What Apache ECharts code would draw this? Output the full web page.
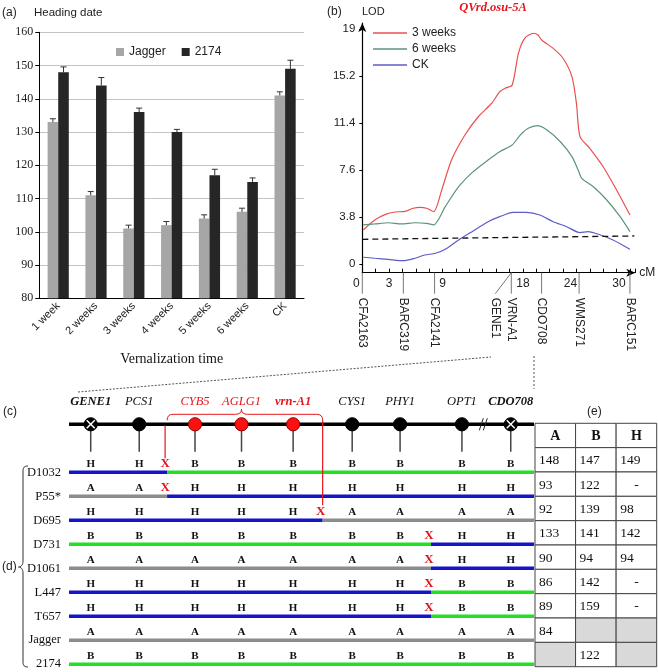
<!DOCTYPE html>
<html><head><meta charset="utf-8">
<script src="https://cdn.jsdelivr.net/npm/echarts@6/dist/echarts.min.js"></script>
<style>html,body{margin:0;padding:0;background:#fff}#c{width:658px;height:672px}</style>
</head><body><div id="c"></div>
<script>
// ---------- Panel (a): heading date ----------
const weeks = ['1 week','2 weeks','3 weeks','4 weeks','5 weeks','6 weeks','CK'];
const jagger = [133,111,101,102,104,106,141];
const jaggerErr = [1.0,1.1,1.0,1.1,1.1,1.1,1.1];
const line2174 = [148,144,136,130,117,115,149];
const line2174Err = [1.6,2.4,1.2,0.8,1.8,1.2,2.6];

// ---------- Panel (b): LOD curves ----------
const lod3w = [[0.1,2.77],[1.4,3.58],[2.6,4.04],[3.7,4.23],[4.8,4.28],[5.7,4.53],[6.5,4.61],[7.2,4.53],[8.0,4.25],[8.9,6.0],[10.0,8.43],[11.5,10.45],[13.0,11.93],[14.5,13.02],[15.4,13.95],[16.0,14.23],[16.8,14.5],[17.5,17.06],[18.2,18.27],[19.2,18.68],[19.7,18.54],[20.1,18.13],[21.4,17.46],[22.5,16.66],[23.5,15.17],[24.0,13.02],[24.4,10.32],[25.5,9.38],[27.0,7.89],[28.5,6.01],[30.0,3.99]];
const lod6w = [[0.1,3.18],[1.4,3.26],[2.9,3.36],[4.4,3.26],[5.9,3.36],[7.2,3.31],[8.0,3.18],[9.3,4.66],[10.8,6.27],[12.3,7.41],[14.1,8.43],[15.4,9.1],[16.8,9.64],[17.7,10.45],[18.6,11.0],[19.6,11.21],[20.7,10.86],[22.2,9.91],[23.5,8.7],[24.2,7.62],[24.6,6.95],[25.9,6.27],[27.4,5.2],[28.9,3.85],[30.0,2.64]];
const lodCK = [[0.1,0.57],[1.4,0.49],[2.9,0.40],[4.6,0.29],[5.9,0.49],[7.0,0.75],[8.2,0.89],[9.3,1.21],[10.8,1.96],[12.3,2.64],[14.1,3.44],[15.4,3.85],[16.9,4.2],[18.4,4.2],[19.9,3.99],[21.4,3.44],[22.9,3.04],[24.4,2.56],[25.3,2.64],[26.7,2.37],[28.1,1.96],[30.0,1.21]];
const lodThreshold = [[0,2.02],[30.5,2.29]];
const lodTicks = [0,3.8,7.6,11.4,15.2,19];
const cmLabels = [0,3,9,18,24,30];
const mapMarkers = ['CFA2163','BARC319','CFA2141','GENE1','VRN-A1','CDO708','WMS271','BARC151'];
const mapMarkerCM = [0,4.6,8.1,16.7,16.7,20.1,24.3,30];

// ---------- Panels (c)/(d): fine map and recombinants ----------
const markerNames = ['GENE1','PCS1','CYB5','AGLG1','vrn-A1','CYS1','PHY1','OPT1','CDO708'];
const markerMapPos = [4.67,15.1,27.1,37.1,48.2,60.9,71.2,84.5,95.0];
const markerRole = ['flank','marker','region','region','candidate','marker','marker','marker','flank'];
const mapBreakPos = 89.1;
const genoRows = ['D1032','P55*','D695','D731','D1061','L447','T657','Jagger','2174'];
const genotypes = [
  ['H','H','B','B','B','B','B','B','B'],
  ['A','A','H','H','H','H','H','H','H'],
  ['H','H','H','H','H','A','A','A','A'],
  ['B','B','B','B','B','B','B','H','H'],
  ['A','A','A','A','A','A','A','H','H'],
  ['H','H','H','H','H','H','H','B','B'],
  ['H','H','H','H','H','H','H','B','B'],
  ['A','A','A','A','A','A','A','A','A'],
  ['B','B','B','B','B','B','B','B','B']
];

// ---------- Panel (e): heading date by genotype class ----------
const tableCols = ['A','B','H'];
const hdA = [148,93,92,133,90,86,89,84,null];
const hdB = [147,122,139,141,94,142,159,null,122];
const hdH = [149,'-',98,142,94,'-','-',null,null];

// ======================================================
const SERIF = '"Liberation Serif","Times New Roman",serif';
const SANS = '"Liberation Sans",Arial,Helvetica,sans-serif';
const genoColor = {H:'#1414c8', B:'#22e022', A:'#8c8c8c'};
const RED = '#e5161c';
const yMinB = -0.68, yMaxB = 19.51;
const ROW0 = 2; // first recombinant row index on diagram axis

// derived segments / breakpoints
const segData = [], letterData = [], xData = [];
genotypes.forEach((g, r) => {
  let start = 0;
  for (let i = 0; i < g.length; i++) {
    letterData.push([markerMapPos[i], r + ROW0, i]);
    if (i < g.length - 1 && g[i] !== g[i+1]) {
      const bp = (markerMapPos[i] + markerMapPos[i+1]) / 2;
      segData.push([start, bp, r + ROW0, r, i]);
      xData.push([bp, r + ROW0, r]);
      start = bp;
    }
  }
  segData.push([start, 100, r + ROW0, r, g.length - 1]);
});
const regionIdx = markerRole.map((v,i)=>(v==='region'||v==='candidate')?i:-1).filter(i=>i>=0);
const regLeft = (markerMapPos[regionIdx[0]-1] + markerMapPos[regionIdx[0]]) / 2;
const regRight = (markerMapPos[regionIdx[regionIdx.length-1]] + markerMapPos[regionIdx[regionIdx.length-1]+1]) / 2;
function rowWithBreak(pos){ const f = xData.find(d => Math.abs(d[0]-pos) < 1e-6); return f ? f[1] : ROW0; }

function errRender(sign){
  return function(params, api){
    const i = api.value(0), v = api.value(1), e = api.value(2);
    const band = api.size([1,0])[0];
    const base = api.coord([i, v]);
    const top = api.coord([i, v + e]);
    const x = base[0] + sign * band * 0.14;
    return {type:'group', children:[
      {type:'line', shape:{x1:x,y1:base[1],x2:x,y2:top[1]}, style:{stroke:'#333',lineWidth:1}},
      {type:'line', shape:{x1:x-3,y1:top[1],x2:x+3,y2:top[1]}, style:{stroke:'#333',lineWidth:1}}
    ]};
  };
}
function txt(x, y, text, size, family, extra){
  return {type:'text', x:x, y:y, style:Object.assign({text:text, fontFamily:family, fontSize:size,
    fill:'#222', align:'left', verticalAlign:'middle'}, extra||{})};
}
function qc(x1,y1,cx,cy,x2,y2,st){ return {type:'bezierCurve', shape:{x1:x1,y1:y1,cpx1:cx,cpy1:cy,x2:x2,y2:y2}, style:st}; }

const chart = echarts.init(document.getElementById('c'));
chart.setOption({
  animation:false,
  backgroundColor:'#fff',
  grid:[
    {left:39.3, top:32.3, width:264.7, height:266},
    {left:362.3, top:23, width:273, height:249.7},
    {left:69, top:424.3, width:465, height:239.9},
    {left:535, top:423.3, width:121.7, height:243.4}
  ],
  legend:[
    {data:['Jagger','2174'], left:111, top:41, itemWidth:8, itemHeight:8, itemGap:16, icon:'rect',
     textStyle:{fontFamily:SANS, fontSize:12, color:'#222'}},
    {data:['3 weeks','6 weeks','CK'], orient:'vertical', left:368, top:22, itemWidth:34, itemHeight:11, itemGap:4,
     icon:'path://M0,0H34V1.3H0Z', symbolKeepAspect:true,
     textStyle:{fontFamily:SANS, fontSize:12, color:'#222'}}
  ],
  xAxis:[
    {type:'category', gridIndex:0, data:weeks,
     axisLine:{lineStyle:{color:'#000',width:1}}, axisTick:{length:5,lineStyle:{color:'#000'}},
     axisLabel:{rotate:45, fontFamily:SANS, fontSize:11, color:'#222', margin:6},
     name:'Vernalization time', nameLocation:'middle', nameGap:54,
     nameTextStyle:{fontFamily:SERIF, fontSize:14, color:'#111'}},
    {type:'value', gridIndex:1, min:0, max:30.6, interval:1.5,
     axisLine:{onZero:false, symbol:['none','arrow'], symbolSize:[6,9], lineStyle:{color:'#000',width:1.2}},
     axisTick:{inside:true, length:4, lineStyle:{color:'#000'}},
     axisLabel:{customValues:cmLabels, fontFamily:SANS, fontSize:12, color:'#222', margin:5,
       formatter:function(v){ return v===30 ? '{t|'+v+'}' : (v===0||v===24) ? '{s|'+v+'}' : String(v); },
       rich:{s:{padding:[0,12,0,0], fontFamily:SANS, fontSize:12, color:'#222'},
             t:{padding:[0,22,0,0], fontFamily:SANS, fontSize:12, color:'#222'}}},
     splitLine:{show:false},
     name:'cM', nameLocation:'end', nameGap:4, nameTextStyle:{fontFamily:SANS, fontSize:12, color:'#222'}},
    {type:'value', gridIndex:2, min:0, max:100, show:false},
    {type:'category', gridIndex:3, data:tableCols, show:false}
  ],
  yAxis:[
    {type:'value', gridIndex:0, min:80, max:160, interval:10,
     axisLine:{show:true, lineStyle:{color:'#000',width:1}}, axisTick:{show:true,length:4,lineStyle:{color:'#000'}},
     axisLabel:{fontFamily:SERIF, fontSize:12, color:'#222', margin:6},
     splitLine:{lineStyle:{color:'#c4c4c4',width:1}}},
    {type:'value', gridIndex:1, min:yMinB, max:yMaxB,
     axisLine:{show:true, onZero:false, symbol:['none','arrow'], symbolSize:[6,9], lineStyle:{color:'#000',width:1.2}},
     axisTick:{show:true, customValues:lodTicks, length:3, lineStyle:{color:'#000'}},
     axisLabel:{customValues:lodTicks, fontFamily:SANS, fontSize:11.5, color:'#222', margin:7},
     splitLine:{show:false}},
    {type:'category', gridIndex:2, data:['',''].concat(genoRows), boundaryGap:false, inverse:true,
     axisLine:{show:false}, axisTick:{show:false},
     axisLabel:{fontFamily:SERIF, fontSize:12.5, color:'#111', margin:8, padding:[0,0,6,0]}},
    {type:'category', gridIndex:3, data:['hdr'].concat(genoRows), inverse:true, show:false}
  ],
  series:[
    {name:'Jagger', type:'bar', xAxisIndex:0, yAxisIndex:0, data:jagger, barWidth:'28%', barGap:'0%',
     itemStyle:{color:'#a6a6a6'}},
    {name:'2174', type:'bar', xAxisIndex:0, yAxisIndex:0, data:line2174, barWidth:'28%', barGap:'0%',
     itemStyle:{color:'#262626'}},
    {type:'custom', xAxisIndex:0, yAxisIndex:0, data:jagger.map((v,i)=>[i,v,jaggerErr[i]]), renderItem:errRender(-1), z:5},
    {type:'custom', xAxisIndex:0, yAxisIndex:0, data:line2174.map((v,i)=>[i,v,line2174Err[i]]), renderItem:errRender(1), z:5},

    {name:'3 weeks', type:'line', xAxisIndex:1, yAxisIndex:1, data:lod3w, symbol:'none', smooth:0.25,
     lineStyle:{color:'#e8504f', width:1.2}, itemStyle:{color:'#e8504f'}},
    {name:'6 weeks', type:'line', xAxisIndex:1, yAxisIndex:1, data:lod6w, symbol:'none', smooth:0.25,
     lineStyle:{color:'#5b9479', width:1.2}, itemStyle:{color:'#5b9479'}},
    {name:'CK', type:'line', xAxisIndex:1, yAxisIndex:1, data:lodCK, symbol:'none', smooth:0.25,
     lineStyle:{color:'#5c5cc4', width:1.2}, itemStyle:{color:'#5c5cc4'}},
    {type:'line', xAxisIndex:1, yAxisIndex:1, data:lodThreshold, symbol:'none',
     lineStyle:{color:'#111', width:1.3, type:[6,4]}},
    {type:'custom', xAxisIndex:1, yAxisIndex:1, data:mapMarkerCM.map((c,i)=>[c,yMinB,i]), clip:false,
     renderItem:function(params, api){
       const i = params.dataIndex;
       const p = api.coord([api.value(0), yMinB]);
       const shift = mapMarkers[i]==='GENE1' ? -16 : 0;
       return {type:'group', children:[
         {type:'line', shape:{x1:p[0],y1:p[1],x2:p[0]+shift,y2:p[1]+21}, style:{stroke:'#777',lineWidth:1}},
         {type:'text', x:p[0]+shift, y:p[1]+25, rotation:-Math.PI/2,
          style:{text:mapMarkers[i], x:0, y:0, align:'left', verticalAlign:'middle',
                 fontFamily:SANS, fontSize:12, fill:'#222'}}
       ]};
     }},

    // chromosome backbone
    {type:'custom', xAxisIndex:2, yAxisIndex:2, data:[[0,0]], clip:false, z:1,
     renderItem:function(params, api){
       const a = api.coord([0,0]), b = api.coord([100,0]), k = api.coord([mapBreakPos,0]);
       return {type:'group', children:[
         {type:'line', shape:{x1:a[0],y1:a[1],x2:b[0],y2:b[1]}, style:{stroke:'#000',lineWidth:3.5}},
         {type:'line', shape:{x1:k[0]-4,y1:k[1]+6,x2:k[0],y2:k[1]-6}, style:{stroke:'#222',lineWidth:1}},
         {type:'line', shape:{x1:k[0]+0,y1:k[1]+6,x2:k[0]+4,y2:k[1]-6}, style:{stroke:'#222',lineWidth:1}}
       ]};
     }},
    // markers
    {type:'custom', xAxisIndex:2, yAxisIndex:2, data:markerMapPos.map((x,i)=>[x,0,i]), clip:false, z:3,
     renderItem:function(params, api){
       const i = params.dataIndex, role = markerRole[i];
       const p = api.coord([api.value(0), 0]);
       const red = role==='region' || role==='candidate';
       const bold = role==='flank' || role==='candidate';
       const ch = [
         {type:'line', shape:{x1:p[0],y1:p[1],x2:p[0],y2:p[1]+27.4}, style:{stroke:'#444',lineWidth:1.5}},
         {type:'circle', shape:{cx:p[0],cy:p[1],r:6.6}, style:{fill:red?'#ff1010':'#000', stroke:red?'#8a0000':'#000', lineWidth:1}},
         {type:'text', style:{text:markerNames[i], x:p[0], y:p[1]-22.6, align:'center', verticalAlign:'middle',
            fontFamily:SERIF, fontSize:12.5, fontStyle:'italic', fontWeight:bold?'bold':'normal',
            fill:red?RED:'#111'}}
       ];
       if (role==='flank') {
         ch.push({type:'line', shape:{x1:p[0]-4,y1:p[1]-4,x2:p[0]+4,y2:p[1]+4}, style:{stroke:'#fff',lineWidth:1.5}});
         ch.push({type:'line', shape:{x1:p[0]-4,y1:p[1]+4,x2:p[0]+4,y2:p[1]-4}, style:{stroke:'#fff',lineWidth:1.5}});
       }
       return {type:'group', children:ch};
     }},
    // candidate region bracket and boundary lines
    {type:'custom', xAxisIndex:2, yAxisIndex:2, data:[[regLeft,0]], clip:false, z:4,
     renderItem:function(params, api){
       const l = api.coord([regLeft,0]), r = api.coord([regRight,0]);
       const m = api.coord([markerMapPos[regionIdx[1]],0]);
       const y0 = l[1]-4, yh = l[1]-10, yc = l[1]-15;
       const lRow = api.coord([regLeft, rowWithBreak(regLeft)]);
       const rRow = api.coord([regRight, rowWithBreak(regRight)]);
       const st = {stroke:RED, fill:null, lineWidth:1};
       return {type:'group', children:[
         qc(l[0],y0,l[0],yh,l[0]+6,yh,st),
         {type:'line', shape:{x1:l[0]+6,y1:yh,x2:m[0]-6,y2:yh}, style:st},
         qc(m[0]-6,yh,m[0],yh,m[0],yc,st),
         qc(m[0],yc,m[0],yh,m[0]+6,yh,st),
         {type:'line', shape:{x1:m[0]+6,y1:yh,x2:r[0]-6,y2:yh}, style:st},
         qc(r[0]-6,yh,r[0],yh,r[0],y0,st),
         {type:'line', shape:{x1:l[0]-2,y1:l[1]+1,x2:l[0]-2,y2:lRow[1]-14}, style:{stroke:RED,lineWidth:1.2}},
         {type:'line', shape:{x1:r[0],y1:y0,x2:r[0],y2:rRow[1]-15}, style:{stroke:RED,lineWidth:1.2}}
       ]};
     }},
    // recombinant haplotype segments
    {type:'custom', xAxisIndex:2, yAxisIndex:2, data:segData, clip:false, z:2,
     renderItem:function(params, api){
       const d = segData[params.dataIndex];
       const a = api.coord([d[0], d[2]]), b = api.coord([d[1], d[2]]);
       return {type:'line', shape:{x1:a[0],y1:a[1],x2:b[0],y2:b[1]},
               style:{stroke:genoColor[genotypes[d[3]][d[4]]], lineWidth:3.5}};
     }},
    // genotype letters
    {type:'custom', xAxisIndex:2, yAxisIndex:2, data:letterData, clip:false, z:3,
     renderItem:function(params, api){
       const d = letterData[params.dataIndex];
       const p = api.coord([d[0], d[1]]);
       const g = genotypes[d[1]-ROW0][d[2]];
       return {type:'text', style:{text:g, x:p[0], y:p[1]-8, align:'center', verticalAlign:'middle',
               fontFamily:SERIF, fontSize:11, fontWeight:'bold', fill:'#111'}};
     }},
    // crossover X marks
    {type:'custom', xAxisIndex:2, yAxisIndex:2, data:xData, clip:false, z:4,
     renderItem:function(params, api){
       const d = xData[params.dataIndex];
       const p = api.coord([d[0], d[1]]);
       return {type:'text', style:{text:'X', x:p[0]-2, y:p[1]-9, align:'center', verticalAlign:'middle',
               fontFamily:SERIF, fontSize:13, fontWeight:'bold', fill:RED}};
     }},

    // table (e)
    {type:'custom', xAxisIndex:3, yAxisIndex:3, clip:false, z:2,
     data:(function(){const o=[];for(let r=0;r<=genoRows.length;r++)for(let c=0;c<3;c++)o.push([c,r]);return o;})(),
     renderItem:function(params, api){
       const c = api.value(0), r = api.value(1);
       const p = api.coord([c, r]); const s = api.size([1,1]);
       const x0 = p[0]-s[0]/2, y0 = p[1]-s[1]/2;
       const cols = [hdA, hdB, hdH];
       let val = r===0 ? tableCols[c] : cols[c][r-1];
       const ch = [{type:'rect', shape:{x:x0,y:y0,width:s[0],height:s[1]},
         style:{fill: val===null ? '#d9d9d9' : '#fff', stroke:'#444', lineWidth:1}}];
       if (val !== null) {
         const center = r===0 || val==='-';
         ch.push({type:'text', style:{text:String(val), x:center?p[0]:x0+4, y:p[1]+1,
           align:center?'center':'left', verticalAlign:'middle', fontFamily:SERIF,
           fontSize:r===0?14:13.5, fontWeight:r===0?'bold':'normal', fill:'#111'}});
       }
       return {type:'group', children:ch};
     }}
  ],
  graphic:[
    txt(2, 13, '(a)', 12, SANS),
    txt(34, 13, 'Heading date', 11.5, SANS),
    txt(327, 12, '(b)', 12, SANS),
    txt(362, 12, 'LOD', 11, SANS),
    txt(493, 8, 'QVrd.osu-5A', 12.5, SERIF, {align:'center', fontWeight:'bold', fontStyle:'italic', fill:RED}),
    txt(3, 412, '(c)', 12, SANS),
    txt(2, 567, '(d)', 12, SANS),
    txt(587, 412, '(e)', 12, SANS),
    {type:'line', shape:{x1:78,y1:392,x2:491,y2:357}, style:{stroke:'#555', lineWidth:1, lineDash:[2,1.5]}},
    {type:'line', shape:{x1:534,y1:356,x2:534,y2:389}, style:{stroke:'#555', lineWidth:1, lineDash:[2,2]}},
    {type:'group', children:[
      {type:'bezierCurve', shape:{x1:28,y1:466,cpx1:23,cpy1:466,cpx2:23,cpy2:469,x2:23,y2:472}, style:{stroke:'#333',fill:null,lineWidth:1}},
      {type:'line', shape:{x1:23,y1:472,x2:23,y2:561}, style:{stroke:'#333',lineWidth:1}},
      {type:'bezierCurve', shape:{x1:23,y1:561,cpx1:23,cpy1:565,cpx2:21,cpy2:567,x2:18.5,y2:567}, style:{stroke:'#333',fill:null,lineWidth:1}},
      {type:'bezierCurve', shape:{x1:18.5,y1:567,cpx1:21,cpy1:567,cpx2:23,cpy2:569,x2:23,y2:573}, style:{stroke:'#333',fill:null,lineWidth:1}},
      {type:'line', shape:{x1:23,y1:573,x2:23,y2:661}, style:{stroke:'#333',lineWidth:1}},
      {type:'bezierCurve', shape:{x1:23,y1:661,cpx1:23,cpy1:664,cpx2:23,cpy2:667,x2:28,y2:667}, style:{stroke:'#333',fill:null,lineWidth:1}}
    ]}
  ]
});
</script>
</body></html>
